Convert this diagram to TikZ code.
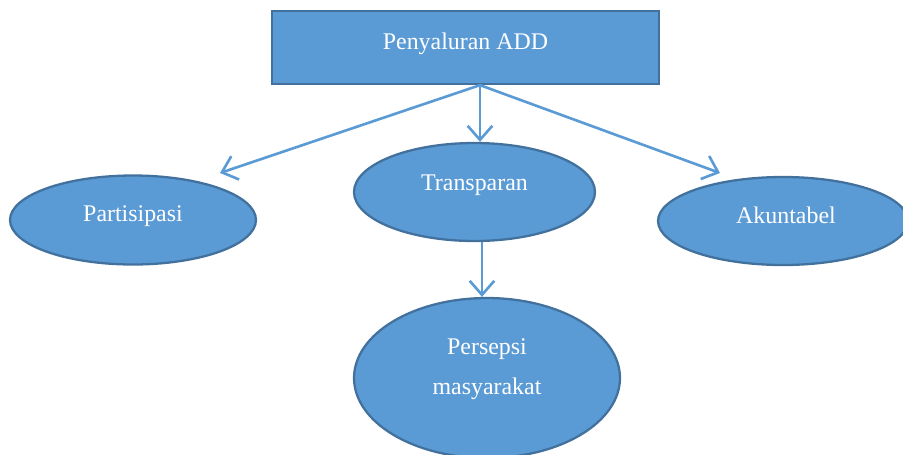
\documentclass[tikz,border=0pt]{standalone}
\usepackage{fontspec}
\setmainfont{Liberation Serif}
\usetikzlibrary{arrows.meta, positioning, shapes.geometric}
\definecolor{acc}{RGB}{91,155,213}
\definecolor{acc2}{RGB}{65,113,156}
\tikzset{
  hdr/.style={rectangle, draw=acc2, line width=1.3pt, fill=acc,
              minimum width=7.74cm, minimum height=1.46cm},
  % elips tanpa teks, teks lewat label
  ell/.style={ellipse, draw=acc2, line width=1.3pt, fill=acc, inner sep=0pt},
  lbl/.style={text=white, align=center, font=\fontsize{13.6}{22.7}\selectfont},
  ar/.style={-{Straight Barb[length=8pt,width=14pt]}, line width=1.5pt, draw=acc}
}

\begin{document}
\begin{tikzpicture}[x=0.02cm, y=-0.02cm]
    \useasboundingbox (0,0) rectangle (903,454);
    \clip (0,0) rectangle (903,454);
    \node[hdr, label={[lbl, yshift=0.08cm]center:Penyaluran ADD}] (add) at (465.5,47.5) {};
    \node[ell, minimum width=4.92cm, minimum height=1.78cm,
          label={[lbl, yshift=0.07cm]center:Partisipasi}] (part) at (133,220) {};
    \node[ell, minimum width=4.82cm, minimum height=1.96cm,
          label={[lbl, yshift=0.13cm]center:Transparan}] (trans) at (474.5,192) {};
    \node[ell, minimum width=5.0cm, minimum height=1.76cm,
          label={[lbl, yshift=0.11cm, xshift=0.06cm]center:Akuntabel}] (akun) at (783,221) {};
    \node[ell, minimum width=5.32cm, minimum height=3.2cm,
          label={[lbl, yshift=0.18cm]center:Persepsi\\masyarakat}] (pers) at (487,378) {};
    \coordinate (src) at ([xshift=0.29cm]add.south);
    \coordinate (tipP) at (220,173);
    \coordinate (tipA) at (720,173);
    \draw[ar] (src) -- (tipP);
    \draw[ar] (src) -- (src |- trans.north);
    \draw[ar] (src) -- (tipA);
    \draw[ar] ([xshift=0.15cm]trans.south) -- ([xshift=0.15cm]trans.south |- pers.north);
  \end{tikzpicture}
\end{document}
